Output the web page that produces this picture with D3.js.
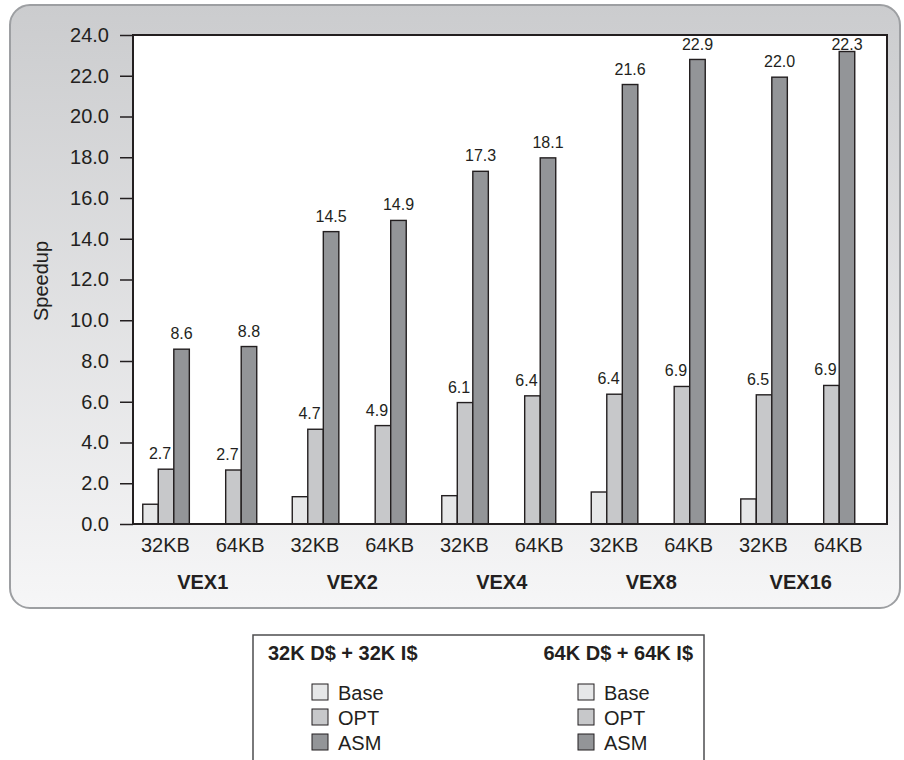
<!DOCTYPE html>
<html>
<head>
<meta charset="utf-8">
<script src="https://cdn.jsdelivr.net/npm/d3@7"></script>
<style>
  body { margin: 0; background: #fff; }
  svg text { font-family: "Liberation Sans", Arial, Helvetica, sans-serif; fill: #231f20; }
</style>
</head>
<body>
<div id="chart"></div>
<script>
// Categories
const groups = ["VEX1", "VEX2", "VEX4", "VEX8", "VEX16"];
const cacheSizes = ["32KB", "64KB"];
const seriesNames = ["Base", "OPT", "ASM"];
const yTicks = [0, 2, 4, 6, 8, 10, 12, 14, 16, 18, 20, 22, 24];

// Bar heights (32K D$ + 32K I$)
const base32 = [0.97, 1.34, 1.39, 1.57, 1.23];
const opt32 = [2.69, 4.65, 5.96, 6.37, 6.34];
const asm32 = [8.58, 14.35, 17.31, 21.57, 21.93];
// 64K D$ + 64K I$ (no Base bar drawn)
const base64 = [null, null, null, null, null];
const opt64 = [2.65, 4.83, 6.29, 6.75, 6.80];
const asm64 = [8.71, 14.9, 17.97, 22.8, 23.19];

// Printed value labels
const optLabel32 = ["2.7", "4.7", "6.1", "6.4", "6.5"];
const asmLabel32 = ["8.6", "14.5", "17.3", "21.6", "22.0"];
const optLabel64 = ["2.7", "4.9", "6.4", "6.9", "6.9"];
const asmLabel64 = ["8.8", "14.9", "18.1", "22.9", "22.3"];

const legendTitles = ["32K D$ + 32K I$", "64K D$ + 64K I$"];

const colors = { Base: "#e6e7e8", OPT: "#c7c8ca", ASM: "#939598" };
const ink = "#231f20";

const width = 904, height = 760;
const plot = { left: 133, right: 887, top: 35, bottom: 524 };

const svg = d3.select("#chart").append("svg")
    .attr("width", width)
    .attr("height", height);

// panel background
const defs = svg.append("defs");
const grad = defs.append("linearGradient")
    .attr("id", "panelGrad")
    .attr("x1", 0).attr("y1", 0).attr("x2", 0).attr("y2", 1);
grad.append("stop").attr("offset", "0%").attr("stop-color", "#cbccce");
grad.append("stop").attr("offset", "100%").attr("stop-color", "#f6f6f7");

svg.append("rect")
    .attr("x", 10).attr("y", 5)
    .attr("width", 890).attr("height", 603)
    .attr("rx", 20).attr("ry", 20)
    .attr("fill", "url(#panelGrad)")
    .attr("stroke", "#9d9fa2")
    .attr("stroke-width", 2);

// plot area
svg.append("rect")
    .attr("x", plot.left).attr("y", plot.top)
    .attr("width", plot.right - plot.left)
    .attr("height", plot.bottom - plot.top)
    .attr("fill", "#fff");

// Scales
const y = d3.scaleLinear()
    .domain([0, 24])
    .range([plot.bottom, plot.top]);

const x0 = d3.scaleBand()
    .domain(groups)
    .range([125, 872.5])
    .padding(0);

const x1 = d3.scaleBand()
    .domain(cacheSizes)
    .range([0, x0.bandwidth()])
    .paddingInner(0.309)
    .paddingOuter(0.2635);

const x2 = d3.scaleBand()
    .domain(seriesNames)
    .range([0, x1.bandwidth()])
    .padding(0);

// Build bar data
const bars = [];
groups.forEach((g, i) => {
    const vals = {
        "32KB": { Base: base32[i], OPT: opt32[i], ASM: asm32[i] },
        "64KB": { Base: base64[i], OPT: opt64[i], ASM: asm64[i] }
    };
    const labs = {
        "32KB": { OPT: optLabel32[i], ASM: asmLabel32[i] },
        "64KB": { OPT: optLabel64[i], ASM: asmLabel64[i] }
    };
    cacheSizes.forEach(c => {
        seriesNames.forEach(s => {
            if (vals[c][s] == null) return;
            bars.push({ group: g, cache: c, series: s, value: vals[c][s], label: labs[c][s] });
        });
    });
});

const barX = d => x0(d.group) + x1(d.cache) + x2(d.series);

// Bars
svg.append("g")
    .selectAll("rect")
    .data(bars)
    .enter()
    .append("rect")
    .attr("x", d => barX(d))
    .attr("y", d => y(d.value))
    .attr("width", x2.bandwidth())
    .attr("height", d => y(0) - y(d.value))
    .attr("fill", d => colors[d.series])
    .attr("stroke", ink)
    .attr("stroke-width", 1.4);

// Value labels
svg.append("g")
    .selectAll("text")
    .data(bars.filter(d => d.label))
    .enter()
    .append("text")
    .attr("x", d => barX(d) + x2.bandwidth() / 2 + (d.series === "OPT" ? -6 : 0))
    .attr("y", d => Math.max(y(d.value) - 10, plot.top + 15))
    .attr("text-anchor", "middle")
    .attr("font-size", "16px")
    .text(d => d.label);

// Frame
svg.append("rect")
    .attr("x", plot.left).attr("y", plot.top)
    .attr("width", plot.right - plot.left)
    .attr("height", plot.bottom - plot.top)
    .attr("fill", "none")
    .attr("stroke", ink)
    .attr("stroke-width", 2);

// Y axis
const yAxis = svg.append("g")
    .attr("transform", `translate(${plot.left}, 0)`)
    .call(d3.axisLeft(y)
        .tickValues(yTicks)
        .tickFormat(d3.format(".1f"))
        .tickSize(13)
        .tickSizeOuter(0)
        .tickPadding(11));
yAxis.select(".domain").remove();
yAxis.selectAll(".tick line").attr("stroke", ink).attr("stroke-width", 1.5);
yAxis.selectAll(".tick text")
    .attr("font-size", "20px")
    .attr("font-family", "Liberation Sans, Arial, sans-serif")
    .attr("fill", ink);

svg.append("text")
    .attr("transform", "rotate(-90)")
    .attr("x", -281)
    .attr("y", 48)
    .attr("text-anchor", "middle")
    .attr("font-size", "20px")
    .text("Speedup");

// X category labels
const xLabel = d3.scaleBand()
    .domain(groups)
    .range([128, 875.5]);

const subLabels = [];
groups.forEach(g => cacheSizes.forEach((c, j) => subLabels.push({ group: g, cache: c, j: j })));

svg.append("g")
    .selectAll("text")
    .data(subLabels)
    .enter()
    .append("text")
    .attr("x", d => xLabel(d.group) + xLabel.bandwidth() * (d.j === 0 ? 0.25 : 0.75))
    .attr("y", 552)
    .attr("text-anchor", "middle")
    .attr("font-size", "20px")
    .text(d => d.cache);

svg.append("g")
    .selectAll("text")
    .data(groups)
    .enter()
    .append("text")
    .attr("x", d => xLabel(d) + xLabel.bandwidth() / 2)
    .attr("y", 589)
    .attr("text-anchor", "middle")
    .attr("font-size", "20px")
    .attr("font-weight", "bold")
    .text(d => d);

// Legend
const legend = svg.append("g");
legend.append("rect")
    .attr("x", 253).attr("y", 635)
    .attr("width", 451).attr("height", 140)
    .attr("fill", "#fff")
    .attr("stroke", "#4d4d4f")
    .attr("stroke-width", 1.5);

legend.append("text")
    .attr("x", 268).attr("y", 660)
    .attr("font-size", "20px")
    .attr("font-weight", "bold")
    .text(legendTitles[0]);

legend.append("text")
    .attr("x", 693).attr("y", 660)
    .attr("text-anchor", "end")
    .attr("font-size", "20px")
    .attr("font-weight", "bold")
    .text(legendTitles[1]);

[312, 578].forEach(lx => {
    const items = legend.append("g")
        .selectAll("g")
        .data(seriesNames)
        .enter()
        .append("g")
        .attr("transform", (d, i) => `translate(${lx}, ${684 + i * 25})`);
    items.append("rect")
        .attr("width", 16).attr("height", 16)
        .attr("fill", d => colors[d])
        .attr("stroke", ink)
        .attr("stroke-width", 1);
    items.append("text")
        .attr("x", 26).attr("y", 16)
        .attr("font-size", "20px")
        .text(d => d);
});
</script>
</body>
</html>
